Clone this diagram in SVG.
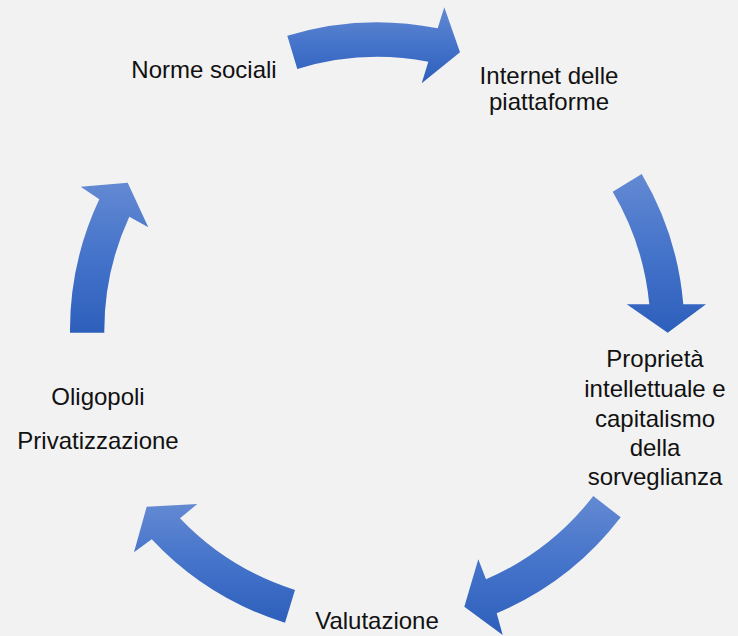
<svg xmlns="http://www.w3.org/2000/svg" width="738" height="636" viewBox="0 0 738 636">
  <style>
    .lbl { font-family: "Liberation Sans", Arial, sans-serif; font-size: 24px; fill: #111111; text-anchor: middle; }
    .arr { fill: url(#g); stroke: none; }
  </style>
  <defs>
    <linearGradient id="g" x1="0" y1="0" x2="0" y2="1">
      <stop offset="0" stop-color="#6389d2"/>
      <stop offset="0.5" stop-color="#4473ca"/>
      <stop offset="1" stop-color="#2d5fbb"/>
    </linearGradient>
  </defs>
  <rect width="738" height="636" fill="#f2f2f2"/>
  <g id="connectors">
    <path class="arr" d="M 287.3,35.7 A 307.5 307.5 0 0 1 437.7,28.3 L 444.3,7.3 L 460,52.3 L 421.7,83.3 L 428.3,61.7 A 273 273 0 0 0 297.3,69 Z"/>
    <path class="arr" d="M 641.7,174 A 307.5 307.5 0 0 1 683.3,304.3 L 706,304.3 L 667.7,332.7 L 626.7,304.3 L 649.3,304.3 A 273 273 0 0 0 612.7,191.7 Z"/>
    <path class="arr" d="M 620.7,517.3 A 307.5 307.5 0 0 1 496.7,613.3 L 502.7,635 L 464.3,606.7 L 478.3,559.3 L 486,579.3 A 273 273 0 0 0 593.3,496 Z"/>
    <path class="arr" d="M 285,622.7 A 307.5 307.5 0 0 1 151.7,539.3 L 134,552.3 L 146.7,506.7 L 197.3,504 L 180,518.3 A 273 273 0 0 0 295,590 Z"/>
    <path class="arr" d="M 70,332.7 A 307.5 307.5 0 0 1 99.3,199.3 L 80.7,186.7 L 127.7,182.7 L 148.3,227.3 L 129.3,216.7 A 273 273 0 0 0 104.3,332.7 Z"/>
  </g>
  <g id="node-norme">
    <text class="lbl" x="204" y="78">Norme sociali</text>
  </g>
  <g id="node-internet">
    <text class="lbl" x="549" y="84">Internet delle</text>
    <text class="lbl" x="549" y="110">piattaforme</text>
  </g>
  <g id="node-proprieta">
    <text class="lbl" x="655" y="367">Proprietà</text>
    <text class="lbl" x="655" y="397">intellettuale e</text>
    <text class="lbl" x="655" y="427">capitalismo</text>
    <text class="lbl" x="655" y="456">della</text>
    <text class="lbl" x="655" y="485">sorveglianza</text>
  </g>
  <g id="node-valutazione">
    <text class="lbl" x="377" y="629">Valutazione</text>
  </g>
  <g id="node-oligopoli">
    <text class="lbl" x="98" y="405">Oligopoli</text>
    <text class="lbl" x="98" y="449">Privatizzazione</text>
  </g>
</svg>
